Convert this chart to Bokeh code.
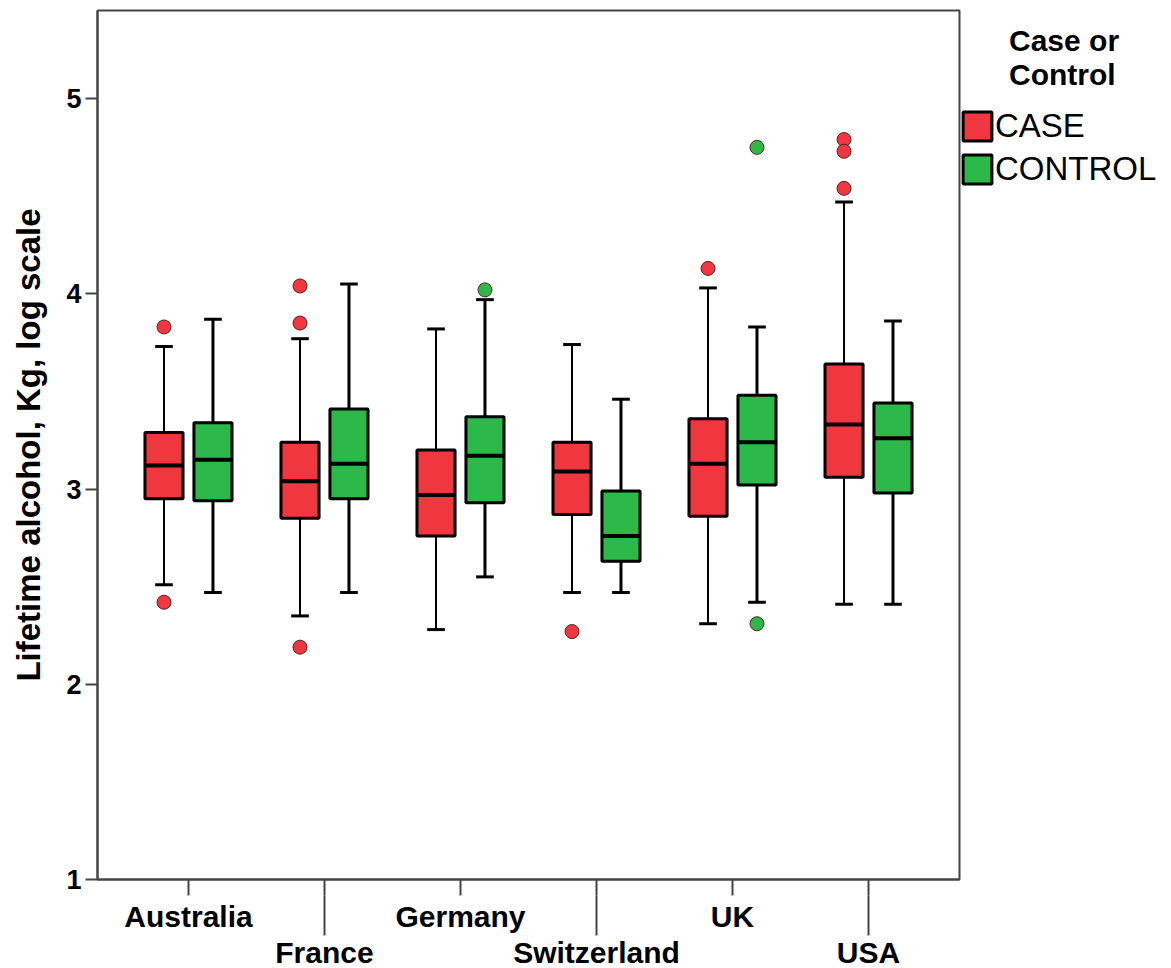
from bokeh.plotting import figure
from bokeh.models import (Range1d, FixedTicker, LinearAxis, Legend, LegendItem,
                          ColumnDataSource)
from bokeh.embed import file_html
from bokeh.resources import INLINE

countries = ["Australia", "France", "Germany", "Switzerland", "UK", "USA"]
y_ticks = [1, 2, 3, 4, 5]

case_lower = [2.51, 2.35, 2.28, 2.47, 2.31, 2.41]
case_q1 = [2.95, 2.85, 2.76, 2.87, 2.86, 3.06]
case_med = [3.12, 3.04, 2.97, 3.09, 3.13, 3.33]
case_q3 = [3.29, 3.24, 3.20, 3.24, 3.36, 3.64]
case_upper = [3.73, 3.77, 3.82, 3.74, 4.03, 4.47]
case_out_country = ["Australia", "Australia", "France", "France", "France",
                    "Switzerland", "UK", "USA", "USA", "USA"]
case_out_value = [3.83, 2.42, 4.04, 3.85, 2.19, 2.27, 4.13, 4.79, 4.73, 4.54]

control_lower = [2.47, 2.47, 2.55, 2.47, 2.42, 2.41]
control_q1 = [2.94, 2.95, 2.93, 2.63, 3.02, 2.98]
control_med = [3.15, 3.13, 3.17, 2.76, 3.24, 3.26]
control_q3 = [3.34, 3.41, 3.37, 2.99, 3.48, 3.44]
control_upper = [3.87, 4.05, 3.97, 3.46, 3.83, 3.86]
control_out_country = ["Germany", "UK", "UK"]
control_out_value = [4.02, 4.75, 2.31]

legend_title_lines = ["Case or", "Control"]
legend_labels = ["CASE", "CONTROL"]

RED = "#f0363f"
GREEN = "#2db84a"
OFFSET = 0.18
BOX_W = 0.28
CAP_W = 0.13
FONT = "Liberation Sans"
INDENT = "\u00a0" * 6  # centres the legend title over the entries

p = figure(frame_width=862, frame_height=869,
           min_border_left=97, min_border_top=10, min_border_right=196,
           min_border_bottom=88,
           x_range=Range1d(-0.669, 5.669), y_range=Range1d(1, 5.451),
           output_backend="svg", toolbar_location=None)
p.xgrid.visible = False
p.ygrid.visible = False
p.outline_line_color = "#444444"
p.outline_line_width = 2
p.background_fill_color = "white"
p.border_fill_color = "white"


def draw_group(shift, lower, q1, med, q3, upper, out_c, out_v, color, wlw):
    xs = [i + shift for i in range(len(countries))]
    src = ColumnDataSource(dict(x=xs, lower=lower, q1=q1, med=med, q3=q3, upper=upper,
                                l=[x - BOX_W / 2 for x in xs], r=[x + BOX_W / 2 for x in xs],
                                cl=[x - CAP_W / 2 for x in xs], cr=[x + CAP_W / 2 for x in xs]))
    p.segment(x0="x", y0="q3", x1="x", y1="upper", source=src, line_color="black", line_width=wlw)
    p.segment(x0="x", y0="q1", x1="x", y1="lower", source=src, line_color="black", line_width=wlw)
    p.segment(x0="cl", y0="upper", x1="cr", y1="upper", source=src, line_color="black", line_width=3)
    p.segment(x0="cl", y0="lower", x1="cr", y1="lower", source=src, line_color="black", line_width=3)
    box = p.vbar(x="x", width=BOX_W, bottom="q1", top="q3", source=src,
                 fill_color=color, line_color="black", line_width=3)
    p.segment(x0="l", y0="med", x1="r", y1="med", source=src, line_color="black", line_width=4)
    ox = [countries.index(c) + shift for c in out_c]
    p.scatter(ox, out_v, size=14, fill_color=color, line_color="#5a2020", line_width=1)
    return box


case_box = draw_group(-OFFSET, case_lower, case_q1, case_med, case_q3, case_upper,
                      case_out_country, case_out_value, RED, 2)
control_box = draw_group(OFFSET, control_lower, control_q1, control_med, control_q3,
                         control_upper, control_out_country, control_out_value, GREEN, 3)

# y axis
ya = p.yaxis[0]
ya.ticker = FixedTicker(ticks=y_ticks)
ya.axis_label = "Lifetime alcohol, Kg, log scale"
ya.axis_label_text_font = FONT
ya.axis_label_text_font_style = "bold"
ya.axis_label_text_font_size = "33px"
ya.axis_label_text_color = "black"
ya.axis_label_standoff = 16
ya.major_label_text_font = FONT
ya.major_label_text_font_style = "bold"
ya.major_label_text_font_size = "27px"
ya.major_label_text_color = "black"
ya.major_label_standoff = 4
ya.major_tick_out = 12
ya.major_tick_in = 0
ya.minor_tick_out = 0
ya.minor_tick_in = 0
ya.axis_line_color = "#444444"
ya.axis_line_width = 2
ya.major_tick_line_width = 2
ya.major_tick_line_color = "#444444"

# x axis, first row
xa = p.xaxis[0]
xa.ticker = FixedTicker(ticks=[0, 1, 2, 3, 4, 5])
xa.major_label_overrides = {0: countries[0], 1: " ", 2: countries[2], 3: " ", 4: countries[4], 5: " "}
xa.major_label_text_font = FONT
xa.major_label_text_font_style = "bold"
xa.major_label_text_font_size = "30px"
xa.major_label_text_color = "black"
xa.major_label_standoff = 4
xa.major_tick_out = 16
xa.major_tick_in = 0
xa.minor_tick_out = 0
xa.minor_tick_in = 0
xa.axis_line_color = "#444444"
xa.axis_line_width = 2
xa.major_tick_line_width = 2
xa.major_tick_line_color = "#444444"

# x axis, second row (staggered labels with long ticks)
xb = LinearAxis(ticker=FixedTicker(ticks=[1, 3, 5]),
                major_label_overrides={1: countries[1], 3: countries[3], 5: countries[5]})
xb.major_label_text_font = FONT
xb.major_label_text_font_style = "bold"
xb.major_label_text_font_size = "30px"
xb.major_label_text_color = "black"
xb.major_label_standoff = 0
xb.major_tick_out = 0
xb.major_tick_in = 40
xb.minor_tick_out = 0
xb.minor_tick_in = 0
xb.axis_line_color = None
xb.major_tick_line_width = 2
xb.major_tick_line_color = "#444444"
p.add_layout(xb, "below")

legend = Legend(items=[LegendItem(label=legend_labels[0], renderers=[case_box]),
                       LegendItem(label=legend_labels[1], renderers=[control_box])],
                title="\n".join(INDENT + t for t in legend_title_lines),
                location=(0, 691))
legend.glyph_width = 36
legend.glyph_height = 36
legend.label_standoff = 0
legend.spacing = 5
legend.padding = 1
legend.margin = 0
legend.border_line_color = None
legend.background_fill_alpha = 0
legend.label_text_font = FONT
legend.label_text_font_size = "33px"
legend.label_text_color = "black"
legend.title_text_font = FONT
legend.title_text_font_size = "30px"
legend.title_text_font_style = "bold"
legend.title_text_color = "black"
legend.title_standoff = 15
p.add_layout(legend, "right")

open("out.html", "w").write(file_html(p, INLINE))
